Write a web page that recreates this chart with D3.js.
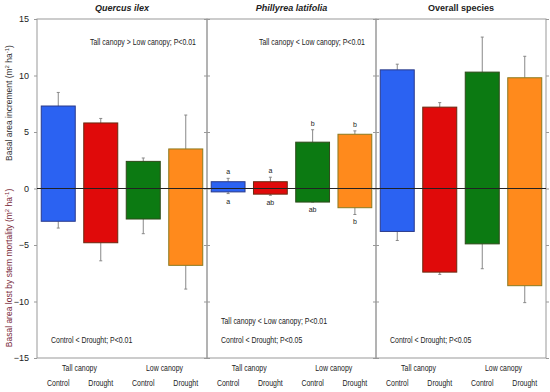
<!DOCTYPE html>
<html>
<head>
<meta charset="utf-8">
<script src="https://cdn.jsdelivr.net/npm/d3@7"></script>
<style>
  body { margin: 0; background: #fff; }
  svg text { font-family: "Liberation Sans", Arial, sans-serif; fill: #222; }
</style>
</head>
<body>
<div id="chart"></div>
<script>
// panels and groups
const species = ["Quercus ilex", "Phillyrea latifolia", "Overall species"];
const groups = ["TC", "TD", "LC", "LD"];
const groupLabels = ["Control", "Drought", "Control", "Drought"];
const canopyLabels = ["Tall canopy", "Low canopy"];
const yTicks = [15, 10, 5, 0, -5, -10, -15];

// basal area increment (positive) and its error
const increment = [[7.3, 5.8, 2.4, 3.5], [0.6, 0.6, 4.1, 4.8], [10.5, 7.2, 10.3, 9.8]];
const incrementErr = [[1.2, 0.4, 0.3, 3.0], [0.3, 0.4, 1.1, 0.3], [0.5, 0.4, 3.1, 1.9]];
// basal area lost by stem mortality (negative) and its error
const loss = [[-2.9, -4.8, -2.7, -6.8], [-0.3, -0.5, -1.2, -1.7], [-3.8, -7.4, -4.9, -8.6]];
const lossErr = [[0.6, 1.6, 1.3, 2.1], [0.15, 0.1, 0.0, 0.6], [0.8, 0.2, 2.2, 1.5]];

// letters for Phillyrea
const lettersTop = ["a", "a", "b", "b"];
const lettersBottom = ["a", "ab", "ab", "b"];

// test annotations per panel
const notesTop = ["Tall canopy > Low canopy; P<0.01", "Tall canopy < Low canopy; P<0.01", ""];
const notesBottom = [["Control < Drought; P<0.01"],
                     ["Tall canopy < Low canopy; P<0.01", "Control < Drought; P<0.05"],
                     ["Control < Drought; P<0.05"]];

const colors = {TC: "#2b62f2", TD: "#e00a0a", LC: "#0c7a12", LD: "#ff8a1c"};
const edges = {TC: "#2a3a8a", TD: "#6a2a10", LC: "#2e4a1a", LD: "#8a7a20"};

const width = 550, height = 392;
const panelX = [37, 207, 376, 546];
const plotTop = 19, plotBottom = 358;
const squeeze = 0.82; // the source font is narrower than Arial

const svg = d3.select("#chart").append("svg")
  .attr("width", width).attr("height", height);

const y = d3.scaleLinear().domain([-15, 15]).range([plotBottom, plotTop]);

// narrow text: a normal text node squeezed horizontally
function narrowText(parent, px, py, str, anchor) {
  return parent.append("text")
    .attr("transform", `translate(${px},${py}) scale(${squeeze},1)`)
    .attr("text-anchor", anchor || "start")
    .attr("font-size", 8.5)
    .text(str);
}

species.forEach(function(sp, p) {
  const x0 = panelX[p], x1 = panelX[p + 1];
  const x = d3.scaleBand().domain(groups).range([x0, x1])
    .paddingInner(0.2).paddingOuter(0.1);
  const g = svg.append("g");

  // ticks on both sides
  g.append("g").attr("transform", `translate(${x0},0)`)
    .call(d3.axisLeft(y).tickValues(yTicks).tickSize(3)
      .tickFormat(p === 0 ? d3.format("d") : ""))
    .call(a => a.select(".domain").remove())
    .call(a => a.selectAll("line").attr("stroke", "#999"))
    .call(a => a.selectAll("text").attr("font-size", 9).attr("fill", "#333").attr("dx", -2));
  g.append("g").attr("transform", `translate(${x1},0)`)
    .call(d3.axisRight(y).tickValues(yTicks).tickSize(3).tickFormat(""))
    .call(a => a.select(".domain").remove())
    .call(a => a.selectAll("line").attr("stroke", "#999"));

  // error bars
  const eb = g.append("g").attr("stroke", "#888").attr("stroke-width", 1);
  groups.forEach(function(k, i) {
    const cx = x(k) + x.bandwidth() / 2;
    eb.append("line").attr("x1", cx).attr("x2", cx)
      .attr("y1", y(increment[p][i])).attr("y2", y(increment[p][i] + incrementErr[p][i]));
    eb.append("line").attr("x1", cx - 1.5).attr("x2", cx + 1.5)
      .attr("y1", y(increment[p][i] + incrementErr[p][i])).attr("y2", y(increment[p][i] + incrementErr[p][i]));
    eb.append("line").attr("x1", cx).attr("x2", cx)
      .attr("y1", y(loss[p][i])).attr("y2", y(loss[p][i] - lossErr[p][i]));
    eb.append("line").attr("x1", cx - 1.5).attr("x2", cx + 1.5)
      .attr("y1", y(loss[p][i] - lossErr[p][i])).attr("y2", y(loss[p][i] - lossErr[p][i]));
  });

  // bars
  g.selectAll(".bar").data(groups).enter()
    .append("rect")
    .attr("x", k => x(k))
    .attr("width", x.bandwidth())
    .attr("y", (k, i) => y(increment[p][i]))
    .attr("height", (k, i) => y(loss[p][i]) - y(increment[p][i]))
    .attr("fill", k => colors[k])
    .attr("stroke", k => edges[k])
    .attr("stroke-width", 1);

  // panel frame
  g.append("rect").attr("x", x0).attr("y", plotTop)
    .attr("width", x1 - x0).attr("height", plotBottom - plotTop)
    .attr("fill", "none").attr("stroke", "#999").attr("stroke-width", 1);

  // title
  g.append("text").attr("x", (x0 + x1) / 2).attr("y", 11)
    .attr("text-anchor", "middle").attr("font-size", 9).attr("font-weight", "bold")
    .attr("font-style", p < 2 ? "italic" : "normal").text(sp);

  // x labels
  groups.forEach(function(k, i) {
    narrowText(g, x(k) + x.bandwidth() / 2, 386, groupLabels[i], "middle").attr("fill", "#333");
  });
  canopyLabels.forEach(function(c, j) {
    const cx = (x(groups[2 * j]) + x(groups[2 * j + 1]) + x.bandwidth()) / 2;
    narrowText(g, cx, 371, c, "middle").attr("fill", "#333");
  });

  // annotations
  if (notesTop[p]) narrowText(g, x1 - 11, 45, notesTop[p], "end");
  notesBottom[p].forEach(function(t, j, arr) {
    narrowText(g, x0 + 14, 343 - (arr.length - 1 - j) * 19, t);
  });

  // significance letters
  if (p === 1) {
    groups.forEach(function(k, i) {
      const cx = x(k) + x.bandwidth() / 2;
      g.append("text").attr("x", cx).attr("y", y(increment[p][i] + incrementErr[p][i]) - 4)
        .attr("text-anchor", "middle").attr("font-size", 7).text(lettersTop[i]);
      g.append("text").attr("x", cx).attr("y", y(loss[p][i] - lossErr[p][i]) + 10)
        .attr("text-anchor", "middle").attr("font-size", 7).text(lettersBottom[i]);
    });
  }
});

// zero line across all panels
svg.append("line").attr("x1", panelX[0]).attr("x2", panelX[3])
  .attr("y1", y(0)).attr("y2", y(0)).attr("stroke", "#222").attr("stroke-width", 1);

// y axis titles
function yTitle(label, cy, color) {
  const t = svg.append("text")
    .attr("transform", `translate(12,${cy}) rotate(-90)`)
    .attr("text-anchor", "middle").attr("font-size", 8.5).style("fill", color);
  t.append("tspan").text(label + " (m");
  t.append("tspan").attr("font-size", 6).attr("dy", -3).text("2");
  t.append("tspan").attr("dy", 3).text(" ha");
  t.append("tspan").attr("font-size", 6).attr("dy", -3).text("-1");
  t.append("tspan").attr("dy", 3).text(")");
}
yTitle("Basal area increment", 103, "#333");
yTitle("Basal area lost by stem mortality", 268, "#7a2a3a");
</script>
</body>
</html>
